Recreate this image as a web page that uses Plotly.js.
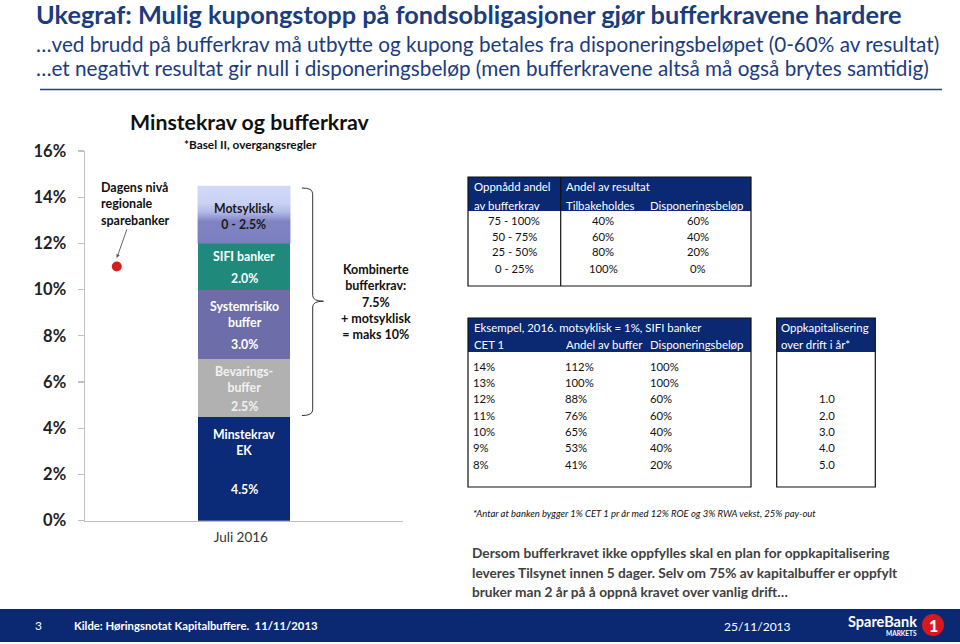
<!DOCTYPE html>
<html>
<head>
<meta charset="utf-8">
<script src="https://cdn.plot.ly/plotly-3.0.1.min.js"></script>
<style>
html,body{margin:0;padding:0;background:#fff;}
#chart{width:960px;height:644px;}
</style>
</head>
<body>
<div id="chart"></div>
<script>
// ---------------- DATA ----------------
const category = ['Juli 2016'];
const segNames = ['Minstekrav EK', 'Bevaringsbuffer', 'Systemrisikobuffer', 'SIFI banker', 'Motsyklisk'];
const segValues = [4.5, 2.5, 3.0, 2.0, 2.5];
const dagensNiva = 11.0;
const yTickVals = [0, 2, 4, 6, 8, 10, 12, 14, 16];
const yTickText = ['0%', '2%', '4%', '6%', '8%', '10%', '12%', '14%', '16%'];

const t1Andel = ['75 - 100%', '50 - 75%', '25 - 50%', '0 - 25%'];
const t1Tilbake = ['40%', '60%', '80%', '100%'];
const t1Disp = ['60%', '40%', '20%', '0%'];

const t2CET = ['14%', '13%', '12%', '11%', '10%', '9%', '8%'];
const t2Andel = ['112%', '100%', '88%', '76%', '65%', '53%', '41%'];
const t2Disp = ['100%', '100%', '60%', '60%', '40%', '40%', '20%'];
const t3Oppkap = ['', '', '1.0', '2.0', '3.0', '4.0', '5.0'];

// ---------------- STYLE ----------------
const FONT = 'Lato, "Open Sans", sans-serif';
const NAVY = '#0b2873';
const TITLEBLUE = '#1b3c7e';
const segColors = ['#0b2a78', '#b1b1b1', '#6d6ea9', '#1f8a7b', '#a4aadf'];

const W = 960, H = 644;
const P = x => x / W;
const Q = y => 1 - y / H;

const barX = 5, barW = 2.92;

const traces = [];
segValues.forEach((v, i) => {
  traces.push({
    type: 'bar', x: [barX], y: [v], width: barW, name: segNames[i],
    marker: {color: segColors[i], line: {width: 0}}, hoverinfo: 'none'
  });
});
// gradient overlay for the top (motsyklisk) segment, built from the data
const segBase = segValues.slice(0, 4).reduce((a, b) => a + b, 0);
const segTop = segBase + segValues[4];
traces.push({
  type: 'scatter', mode: 'lines', fill: 'toself',
  x: [barX - barW / 2, barX + barW / 2, barX + barW / 2, barX - barW / 2, barX - barW / 2],
  y: [segBase, segBase, segTop, segTop, segBase],
  line: {width: 0, color: 'rgba(0,0,0,0)'},
  fillcolor: '#a4aadf',
  fillgradient: {type: 'vertical', colorscale: [[0, '#7b7fbf'], [0.38, '#8084c3'], [0.55, '#b3bbea'], [0.7, '#c9d1f4'], [1, '#d3dbf9']]},
  hoverinfo: 'none'
});
// dagens nivå point
traces.push({
  type: 'scatter', mode: 'markers', x: [1.0], y: [dagensNiva],
  marker: {color: '#d41f1f', size: 10, symbol: 'circle'}, hoverinfo: 'none'
});

const ann = [];
const shapes = [];
function txt(x, y, text, o) {
  o = o || {};
  ann.push({
    xref: 'paper', yref: 'paper', x: P(x), y: Q(y), text: text, showarrow: false,
    xanchor: o.xa || 'left', yanchor: 'middle', align: o.align || 'left',
    font: {family: FONT, size: o.size || 12, color: o.color || '#111', weight: o.weight || 400, style: o.style || 'normal'}
  });
}
function rect(x0, y0, x1, y1, fill, line) {
  shapes.push({type: 'rect', xref: 'paper', yref: 'paper', x0: P(x0), x1: P(x1), y0: Q(y0), y1: Q(y1),
    fillcolor: fill || 'rgba(0,0,0,0)', line: line || {width: 0}, layer: 'above'});
}
function hline(x0, x1, y, color, w) {
  shapes.push({type: 'line', xref: 'paper', yref: 'paper', x0: P(x0), x1: P(x1), y0: Q(y), y1: Q(y), line: {color: color, width: w}});
}
function vline(x, y0, y1, color, w) {
  shapes.push({type: 'line', xref: 'paper', yref: 'paper', x0: P(x), x1: P(x), y0: Q(y0), y1: Q(y1), line: {color: color, width: w}, layer: 'above'});
}

// --- headline ---
txt(34, 14, 'Ukegraf: Mulig kupongstopp på fondsobligasjoner gjør bufferkravene hardere', {size: 25.3, color: TITLEBLUE, weight: 700});
txt(34, 44, '…ved brudd på bufferkrav må utbytte og kupong betales fra disponeringsbeløpet (0-60% av resultat)', {size: 20.7, color: TITLEBLUE});
txt(34, 68, '…et negativt resultat gir null i disponeringsbeløp (men bufferkravene altså må også brytes samtidig)', {size: 20.7, color: TITLEBLUE});
hline(40, 942, 89.5, '#2b3f85', 1.5);

// --- chart titles ---
txt(249.5, 122, 'Minstekrav og bufferkrav', {size: 21.3, weight: 700, xa: 'center', color: '#111'});
txt(250.5, 144, '*Basel II, overgangsregler', {size: 11.8, weight: 700, xa: 'center', color: '#111'});

// --- bar labels (data coordinates) ---
function barLab(y, text, color, size) {
  ann.push({xref: 'x', yref: 'y', x: barX, y: y, text: text, showarrow: false, xanchor: 'center', yanchor: 'middle',
    align: 'center', font: {family: FONT, size: size || 12.3, color: color, weight: 700}});
}
barLab(13.17, 'Motsyklisk<br>0 - 2.5%', '#1a1a1a');
barLab(11.43, 'SIFI banker', '#ffffff');
barLab(10.48, '2.0%', '#ffffff');
barLab(8.92, 'Systemrisiko<br>buffer', '#ffffff');
barLab(7.62, '3.0%', '#ffffff');
barLab(6.10, 'Bevarings-<br>buffer', '#f2f2f2');
barLab(4.93, '2.5%', '#f2f2f2');
barLab(3.37, 'Minstekrav<br>EK', '#ffffff');
barLab(1.33, '4.5%', '#ffffff');

// dagens nivå annotation with arrow
ann.push({xref: 'x', yref: 'y', x: 1.0, y: dagensNiva + 0.37, text: 'Dagens nivå<br>regionale<br>sparebanker',
  showarrow: true, ax: 19, ay: -54, arrowhead: 2, arrowsize: 0.8, arrowwidth: 0.9, arrowcolor: '#555',
  align: 'left', xanchor: 'center', yanchor: 'middle', font: {family: FONT, size: 12.5, color: '#111', weight: 700}});

// brace for combined buffers
const bTop = segTop, bBot = segValues[0], bMid = (bTop + bBot) / 2;
shapes.push({type: 'path', xref: 'x', yref: 'y', line: {color: '#333', width: 1},
  path: `M 6.82 ${bTop - 0.1} Q 7.16 ${bTop - 0.1} 7.16 ${bTop - 0.35} L 7.16 ${bMid + 0.25} Q 7.16 ${bMid} 7.5 ${bMid} ` +
        `Q 7.16 ${bMid} 7.16 ${bMid - 0.25} L 7.16 ${bBot + 0.3} Q 7.16 ${bBot + 0.05} 6.82 ${bBot + 0.05}`});
txt(376, 302, 'Kombinerte<br>bufferkrav:<br>7.5%<br>+ motsyklisk<br>= maks 10%', {size: 12.5, weight: 700, xa: 'center', align: 'center'});

// --- table 1 ---
const HS = 11.4, BS = 11.3;
rect(468, 177, 751, 211, NAVY);
rect(468, 177, 751, 286, null, {color: '#111', width: 1.2});
vline(560.7, 177, 286, '#111', 1.2);
txt(472, 186, 'Oppnådd andel', {size: HS, color: '#fff'});
txt(472, 205, 'av bufferkrav', {size: HS, color: '#fff'});
txt(564, 186, 'Andel av resultat', {size: HS, color: '#fff'});
txt(564, 205, 'Tilbakeholdes', {size: HS, color: '#fff'});
txt(648, 205, 'Disponeringsbeløp', {size: HS, color: '#fff'});
const t1y = [220, 236, 252, 268.5];
t1Andel.forEach((v, i) => {
  txt(514, t1y[i], v, {size: BS, xa: 'center'});
  txt(603, t1y[i], t1Tilbake[i], {size: BS, xa: 'center'});
  txt(698, t1y[i], t1Disp[i], {size: BS, xa: 'center'});
});

// --- table 2 ---
rect(468, 318, 751, 352, NAVY);
rect(468, 318, 751, 487, null, {color: '#111', width: 1.2});
txt(472, 327, 'Eksempel, 2016. motsyklisk = 1%, SIFI banker', {size: HS, color: '#fff'});
txt(472, 344, 'CET 1', {size: HS, color: '#fff'});
txt(564, 344, 'Andel av buffer', {size: HS, color: '#fff'});
txt(648, 344, 'Disponeringsbeløp', {size: HS, color: '#fff'});
const t2y = [366, 382.5, 398.7, 415, 431, 447.5, 464];
t2CET.forEach((v, i) => {
  txt(471, t2y[i], v, {size: BS});
  txt(563, t2y[i], t2Andel[i], {size: BS});
  txt(648, t2y[i], t2Disp[i], {size: BS});
});

// --- table 3 ---
rect(776.7, 318, 875.3, 352, NAVY);
rect(776.7, 318, 875.3, 487, null, {color: '#111', width: 1.2});
txt(779, 327, 'Oppkapitalisering', {size: HS, color: '#fff'});
txt(779, 344, 'over drift i år*', {size: HS, color: '#fff'});
t3Oppkap.forEach((v, i) => { if (v) txt(826.7, t2y[i], v, {size: BS, xa: 'center'}); });

// footnote and paragraph
txt(471, 513.5, '*Antar at banken bygger 1% CET 1 pr år med 12% ROE og 3% RWA vekst, 25% pay-out', {size: 9.5, style: 'italic'});
txt(470, 552.5, 'Dersom bufferkravet ikke oppfylles skal en plan for oppkapitalisering', {size: 13.7, weight: 700, color: '#404040'});
txt(470, 572, 'leveres Tilsynet innen 5 dager. Selv om 75% av kapitalbuffer er oppfylt', {size: 13.7, weight: 700, color: '#404040'});
txt(470, 591.5, 'bruker man 2 år på å oppnå kravet over vanlig drift…', {size: 13.7, weight: 700, color: '#404040'});

// footer
shapes.push({type: 'rect', xref: 'paper', yref: 'paper', x0: 0, x1: 1, y0: Q(642), y1: Q(609), fillcolor: NAVY, line: {width: 0}, layer: 'below'});
txt(38.5, 625.5, '3', {size: 12, color: '#fff', xa: 'center'});
txt(72, 625.5, 'Kilde: Høringsnotat Kapitalbuffere.  11/11/2013', {size: 11.3, color: '#fff', weight: 700});
txt(757, 626, '25/11/2013', {size: 12, color: '#fff', xa: 'center'});
txt(919, 621, 'SpareBank', {size: 14.5, color: '#fff', weight: 700, xa: 'right'});
txt(919, 633, 'MARKETS', {size: 6.5, color: '#fff', weight: 700, xa: 'right'});
shapes.push({type: 'circle', xref: 'paper', yref: 'paper', x0: P(922), x1: P(944), y0: Q(636), y1: Q(614), fillcolor: '#d7191f', line: {width: 0}, layer: 'above'});
txt(933, 625.5, '1', {size: 16, color: '#fff', weight: 900, xa: 'center'});

const layout = {
  width: W, height: H, margin: {l: 0, r: 0, t: 0, b: 0}, paper_bgcolor: '#fff', plot_bgcolor: 'rgba(0,0,0,0)',
  showlegend: false, barmode: 'stack', bargap: 0,
  xaxis: {domain: [P(85), P(403)], range: [0, 10], tickvals: [barX - 0.1], ticktext: category, ticks: '',
    showline: true, linecolor: '#c0c0c0', linewidth: 1.5, showgrid: false, zeroline: false, ticklabelstandoff: 4,
    tickfont: {family: FONT, size: 13.5, color: '#333'}, fixedrange: true},
  yaxis: {domain: [Q(520.7), Q(151)], range: [0, 16], tickvals: yTickVals, ticktext: yTickText, ticks: 'outside',
    ticklen: 6, tickcolor: '#c0c0c0', tickwidth: 1.2, showline: true, linecolor: '#c0c0c0', linewidth: 1.5,
    showgrid: false, zeroline: false, ticklabelstandoff: 8,
    tickfont: {family: FONT, size: 16.5, color: '#222', weight: 700}, fixedrange: true},
  annotations: ann, shapes: shapes
};

Plotly.newPlot('chart', traces, layout, {staticPlot: true, displayModeBar: false});
</script>
</body>
</html>
